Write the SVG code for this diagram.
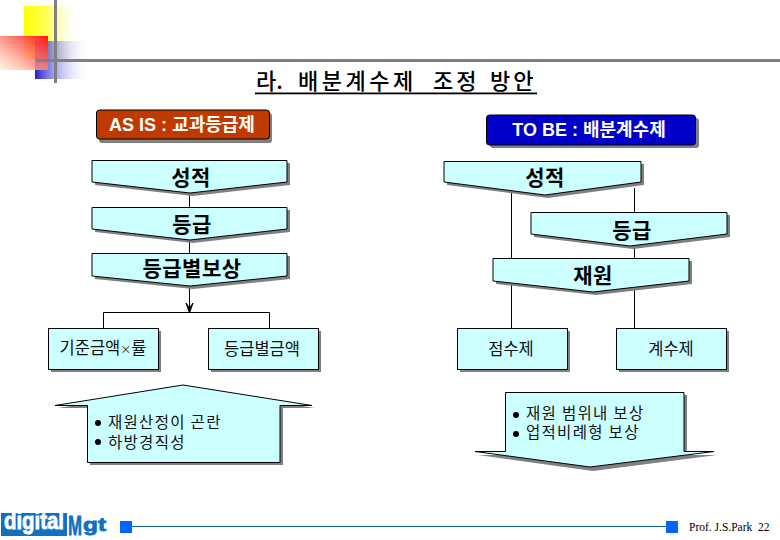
<svg xmlns="http://www.w3.org/2000/svg" width="780" height="540" viewBox="0 0 780 540">
<style>
text{font-family:"Noto Sans CJK KR","Liberation Sans",sans-serif;fill:#000}
.b{font-size:21px;font-weight:700;text-anchor:middle;letter-spacing:.5px}
.n{font-size:16.500px;text-anchor:middle;fill:#111}
.l{font-size:15.500px;letter-spacing:1.300px;fill:#111}
.t{font-size:22px;font-weight:500}
.h{font-family:"Liberation Sans","Noto Sans CJK KR",sans-serif;font-size:18px;font-weight:700;fill:#fff;text-anchor:middle}
.s{fill:#808080}
.f{fill:#ccffff;stroke:#000;stroke-width:1}
.c{fill:none;stroke:#000;stroke-width:1}
.logo{font-family:"Liberation Sans",sans-serif;font-weight:700;stroke-width:.8px}
</style>
<defs>
<linearGradient id="gy" x1="0" x2="1" y1="0" y2="0"><stop offset="0" stop-color="#ffff00"/><stop offset=".4" stop-color="#ffff55"/><stop offset="1" stop-color="#fff" stop-opacity="0"/></linearGradient>
<linearGradient id="gb" x1="0" x2="1" y1="0" y2="0"><stop offset="0" stop-color="#2020d0"/><stop offset="1" stop-color="#fff" stop-opacity="0"/></linearGradient>
<linearGradient id="gr" x1="1" x2="0" y1="0" y2="1"><stop offset="0" stop-color="#ff1010"/><stop offset="1" stop-color="#fff2d8" stop-opacity=".7"/></linearGradient>
</defs>
<g id="decor">
<rect x="24" y="6" width="56" height="54" fill="url(#gy)"/>
<rect x="35" y="41" width="55" height="38" fill="url(#gb)"/>
<rect x="0" y="36" width="48" height="34" fill="url(#gr)"/>
<rect x="54" y="0" width="3" height="83" fill="#808080"/>
<rect x="36" y="59" width="744" height="3" fill="#808080"/>
</g>
<g id="title"><text class="t" y="89"><tspan x="256">라.</tspan><tspan x="298" letter-spacing="3.500">배분계수제</tspan><tspan x="433" letter-spacing="3">조정</tspan><tspan x="490" letter-spacing="3">방안</tspan></text><rect x="255" y="92.500" width="282" height="1.800" fill="#000"/></g>
<g id="connectors">
<path class="c" d="M189.500 193V207M189.500 240V253M189.500 286V308M103.500 328V312.500H269.500V328"/>
<path d="M186 303L189.500 308 193 303 189.500 313Z" fill="#000" stroke="#000" stroke-width="1"/>
<path class="c" d="M511.500 188V258M511.500 281V328M634.500 188V212M634.500 246V258M634.500 288V328"/>
</g>
<g id="asis"><rect class="s" x="99" y="113" width="173" height="30" rx="3"/><rect x="96.500" y="110" width="173" height="29" rx="3" fill="#c03a00" stroke="#000"/><text class="h" x="182" y="131">AS IS : 교과등급제</text></g>
<g id="tobe"><rect class="s" x="490" y="118" width="209" height="30" rx="3"/><rect x="486.500" y="115" width="209" height="30" rx="3" fill="#0000c8" stroke="#000"/><text class="h" x="589" y="136">TO BE : 배분계수제</text></g>
<g id="l1"><path class="s" d="M95 163H290V185L193 196 95 185Z"/><path class="f" d="M92 160.500H287V182L190 193 92 182Z"/><text class="b" x="191" y="185">성적</text></g>
<g id="l2"><path class="s" d="M95 210H290V232L193 243 95 232Z"/><path class="f" d="M92 207.500H287V229L190 240 92 229Z"/><text class="b" x="192" y="232">등급</text></g>
<g id="l3"><path class="s" d="M95 256H290V279L193 289 95 279Z"/><path class="f" d="M92 253.500H287V276L190 286 92 276Z"/><text class="b" x="192" y="276">등급별보상</text></g>
<g id="l4"><rect class="s" x="51" y="331" width="110" height="41"/><rect class="f" x="48.500" y="328.500" width="110" height="41"/><text class="n" x="103" y="354">기준금액<tspan font-size="11">×</tspan>률</text></g>
<g id="l5"><rect class="s" x="211" y="331" width="110" height="41"/><rect class="f" x="208.500" y="328.500" width="110" height="41"/><text class="n" x="262" y="355">등급별금액</text></g>
<g id="l6"><path class="s" d="M58 408H90V465H283V408H315L186 388Z"/><path class="f" d="M55 405.500H87.500V462.500H280V405.500H312L183 385Z"/><circle cx="98" cy="423" r="3" fill="#000"/><circle cx="98" cy="442" r="3" fill="#000"/><text class="l" x="108" y="427.500">재원산정이 곤란</text><text class="l" x="108" y="447.500">하방경직성</text></g>
<g id="r1"><path class="s" d="M447 164H644V185L548 198 447 185Z"/><path class="f" d="M444 161.500H641V182L545 195 444 182Z"/><text class="b" x="545" y="185">성적</text></g>
<g id="r2"><path class="s" d="M534 215H730V237L633 249 534 237Z"/><path class="f" d="M531 212.500H727V234L630 246 531 234Z"/><text class="b" x="632" y="238">등급</text></g>
<g id="r3"><path class="s" d="M496 261H692V284L596 295 496 284Z"/><path class="f" d="M493 258.500H689V281L593 292 493 281Z"/><text class="b" x="593" y="283">재원</text></g>
<g id="r4"><rect class="s" x="460" y="331" width="110" height="41"/><rect class="f" x="457.500" y="328.500" width="110" height="41"/><text class="n" x="511" y="355">점수제</text></g>
<g id="r5"><rect class="s" x="619" y="331" width="110" height="41"/><rect class="f" x="616.500" y="328.500" width="110" height="41"/><text class="n" x="671" y="355">계수제</text></g>
<g id="r6"><path class="s" d="M478 455H508V395H687V455H717L593 471Z"/><path class="f" d="M475 451.500H505.500V392.500H684V451.500H714L590 467Z"/><circle cx="516" cy="415" r="3" fill="#000"/><circle cx="516" cy="434" r="3" fill="#000"/><text class="l" x="526" y="419">재원 범위내 보상</text><text class="l" x="526" y="438">업적비례형 보상</text></g>
<g id="footer">
<rect x="1" y="513" width="66" height="23" fill="#1270c0"/>
<text class="logo" x="4" y="529" font-size="23" textLength="60" lengthAdjust="spacingAndGlyphs" style="fill:#fff;stroke:#fff">digital</text>
<text class="logo" x="68" y="535" font-size="28" textLength="14" lengthAdjust="spacingAndGlyphs" style="fill:#1270c0;stroke:#1270c0">M</text>
<text class="logo" x="83" y="531" font-size="19" textLength="23" lengthAdjust="spacingAndGlyphs" style="fill:#1270c0;stroke:#1270c0">gt</text>
<rect x="120" y="521" width="12" height="12" fill="#0066ff"/>
<path d="M132 526.500H666" stroke="#1060a0" stroke-width="1"/>
<rect x="666" y="521" width="12" height="12" fill="#0066ff"/>
<text x="689" y="531" style="font-family:'Liberation Serif',serif;font-size:11.500px;fill:#000" xml:space="preserve">Prof. J.S.Park  22</text>
</g>
</svg>
